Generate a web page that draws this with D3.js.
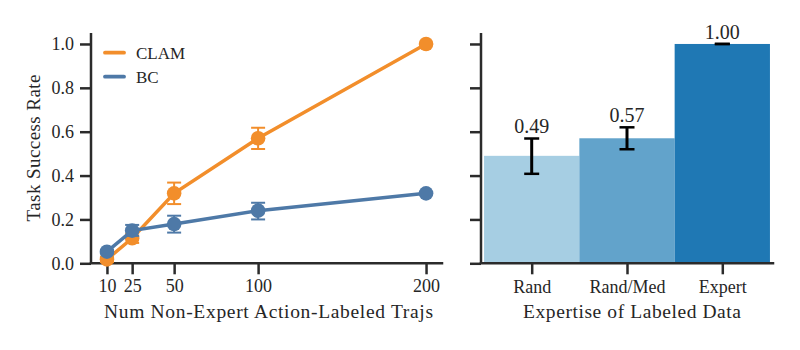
<!DOCTYPE html>
<html><head><meta charset="utf-8">
<script src="https://cdn.jsdelivr.net/npm/d3@7"></script>
<style>body{margin:0;background:#fff}svg{display:block}text{font-family:"Liberation Serif","Times New Roman",serif;fill:#262626}</style>
</head><body><svg id="c" width="800" height="350"></svg>
<script>
// ---- data ----
const xValues = [10, 25, 50, 100, 200];
const xTickLabels = ["10", "25", "50", "100", "200"];
const clamMean = [0.018, 0.114, 0.319, 0.570, 1.000];
const clamLow  = [0.005, 0.093, 0.270, 0.521, 1.000];
const clamHigh = [0.030, 0.135, 0.368, 0.618, 1.000];
const bcMean = [0.053, 0.149, 0.179, 0.240, 0.319];
const bcLow  = [0.045, 0.125, 0.140, 0.200, 0.314];
const bcHigh = [0.060, 0.175, 0.217, 0.276, 0.324];
const seriesNames = ["CLAM", "BC"];
const yTicks = [0.0, 0.2, 0.4, 0.6, 0.8, 1.0];
const barCategories = ["Rand", "Rand/Med", "Expert"];
const barValues = [0.49, 0.57, 1.00];
const barLow = [0.408, 0.520, 1.000];
const barHigh = [0.569, 0.620, 1.000];
const barLabels = ["0.49", "0.57", "1.00"];
const barColors = ["#a6cee3", "#62a3cb", "#1f78b4"];
const seriesColors = ["#f28e2b", "#4e79a7"];

const svg = d3.select("#c");
const axisColor = "#2b2b2b";
const y = d3.scaleLinear().domain([0, 1.05]).range([263.3, 33]);

// ---- left panel ----
const L = {x0: 91, x1: 442};
const x = d3.scaleLinear().domain([0.5, 209.5]).range([L.x0, L.x1]);
const gL = svg.append("g");

function styleAxis(g) {
  g.selectAll(".domain").remove();
  g.selectAll(".tick line").attr("stroke", axisColor).attr("stroke-width", 2.5);
  g.selectAll(".tick text").style("font-size", "18px").attr("fill", "#262626");
}
const yAxisL = gL.append("g").attr("transform", `translate(${L.x0},0)`)
  .call(d3.axisLeft(y).tickValues(yTicks).tickFormat(d3.format(".1f")).tickSize(11).tickPadding(6));
styleAxis(yAxisL);
const xAxisL = gL.append("g").attr("transform", `translate(0,${y(0)})`)
  .call(d3.axisBottom(x).tickValues(xValues).tickFormat((d, i) => xTickLabels[i]).tickSize(11).tickPadding(5));
styleAxis(xAxisL);
gL.append("line").attr("x1", L.x0).attr("x2", L.x0).attr("y1", y(1.05)).attr("y2", y(0))
  .attr("stroke", axisColor).attr("stroke-width", 2.5);
gL.append("line").attr("x1", L.x0).attr("x2", L.x1).attr("y1", y(0)).attr("y2", y(0))
  .attr("stroke", axisColor).attr("stroke-width", 2.5).attr("stroke-linecap", "square");

const series = [
  {name: seriesNames[0], mean: clamMean, low: clamLow, high: clamHigh, color: seriesColors[0]},
  {name: seriesNames[1], mean: bcMean, low: bcLow, high: bcHigh, color: seriesColors[1]}
];
const line = d3.line().x((d, i) => x(xValues[i])).y(d => y(d));
series.forEach(s => {
  const g = gL.append("g");
  g.append("path").attr("d", line(s.mean)).attr("fill", "none").attr("stroke", s.color).attr("stroke-width", 3.5);
  xValues.forEach((xv, i) => {
    const cx = x(xv);
    g.append("line").attr("x1", cx).attr("x2", cx).attr("y1", y(s.low[i])).attr("y2", y(s.high[i]))
      .attr("stroke", s.color).attr("stroke-width", 2);
    [s.low[i], s.high[i]].forEach(v => {
      g.append("line").attr("x1", cx - 7).attr("x2", cx + 7).attr("y1", y(v)).attr("y2", y(v))
        .attr("stroke", s.color).attr("stroke-width", 2);
    });
    g.append("circle").attr("cx", cx).attr("cy", y(s.mean[i])).attr("r", 7.3).attr("fill", s.color);
  });
});
// legend
series.forEach((s, i) => {
  const ly = 52.7 + i * 24;
  gL.append("line").attr("x1", 105).attr("x2", 124).attr("y1", ly).attr("y2", ly)
    .attr("stroke", s.color).attr("stroke-width", 3.8).attr("stroke-linecap", "round");
  gL.append("text").attr("x", 136).attr("y", ly + 6).style("font-size", "17px").text(s.name);
});
gL.append("text").attr("transform", `translate(40,148) rotate(-90)`).attr("text-anchor", "middle")
  .style("font-size", "19px").attr("textLength", 147).attr("lengthAdjust", "spacing").text("Task Success Rate");
gL.append("text").attr("x", (L.x0 + L.x1) / 2 + 2).attr("y", 318).attr("text-anchor", "middle")
  .style("font-size", "19.5px").attr("textLength", 329).attr("lengthAdjust", "spacing")
  .text("Num Non-Expert Action-Labeled Trajs");

// ---- right panel ----
const R = {x0: 481, x1: 773};
const xb = d3.scaleLinear().domain([-0.532, 2.532]).range([R.x0, R.x1]);
const gR = svg.append("g");
barCategories.forEach((c, i) => {
  gR.append("rect").attr("x", xb(i - 0.5)).attr("width", xb(i + 0.5) - xb(i - 0.5))
    .attr("y", y(barValues[i])).attr("height", y(0) - y(barValues[i])).attr("fill", barColors[i]);
});
const yAxisR = gR.append("g").attr("transform", `translate(${R.x0},0)`)
  .call(d3.axisLeft(y).tickValues(yTicks).tickFormat("").tickSize(11));
styleAxis(yAxisR);
const xAxisR = gR.append("g").attr("transform", `translate(0,${y(0)})`)
  .call(d3.axisBottom(xb).tickValues(d3.range(barCategories.length)).tickFormat(i => barCategories[i]).tickSize(11).tickPadding(6));
styleAxis(xAxisR);
gR.append("line").attr("x1", R.x0).attr("x2", R.x0).attr("y1", y(1.05)).attr("y2", y(0))
  .attr("stroke", axisColor).attr("stroke-width", 2.5);
gR.append("line").attr("x1", R.x0).attr("x2", R.x1).attr("y1", y(0)).attr("y2", y(0))
  .attr("stroke", axisColor).attr("stroke-width", 2.5).attr("stroke-linecap", "square");
barCategories.forEach((c, i) => {
  const cx = xb(i);
  gR.append("line").attr("x1", cx).attr("x2", cx).attr("y1", y(barLow[i])).attr("y2", y(barHigh[i]))
    .attr("stroke", "#000").attr("stroke-width", 3);
  [barLow[i], barHigh[i]].forEach(v => {
    gR.append("line").attr("x1", cx - 7.5).attr("x2", cx + 7.5).attr("y1", y(v)).attr("y2", y(v))
      .attr("stroke", "#000").attr("stroke-width", 2.5);
  });
  gR.append("text").attr("x", cx).attr("y", y(barHigh[i]) - 5).attr("text-anchor", "middle")
    .style("font-size", "20px").text(barLabels[i]);
});
gR.append("text").attr("x", (R.x0 + R.x1) / 2 + 5).attr("y", 318).attr("text-anchor", "middle")
  .style("font-size", "19.5px").attr("textLength", 218).attr("lengthAdjust", "spacing")
  .text("Expertise of Labeled Data");
</script></body></html>
